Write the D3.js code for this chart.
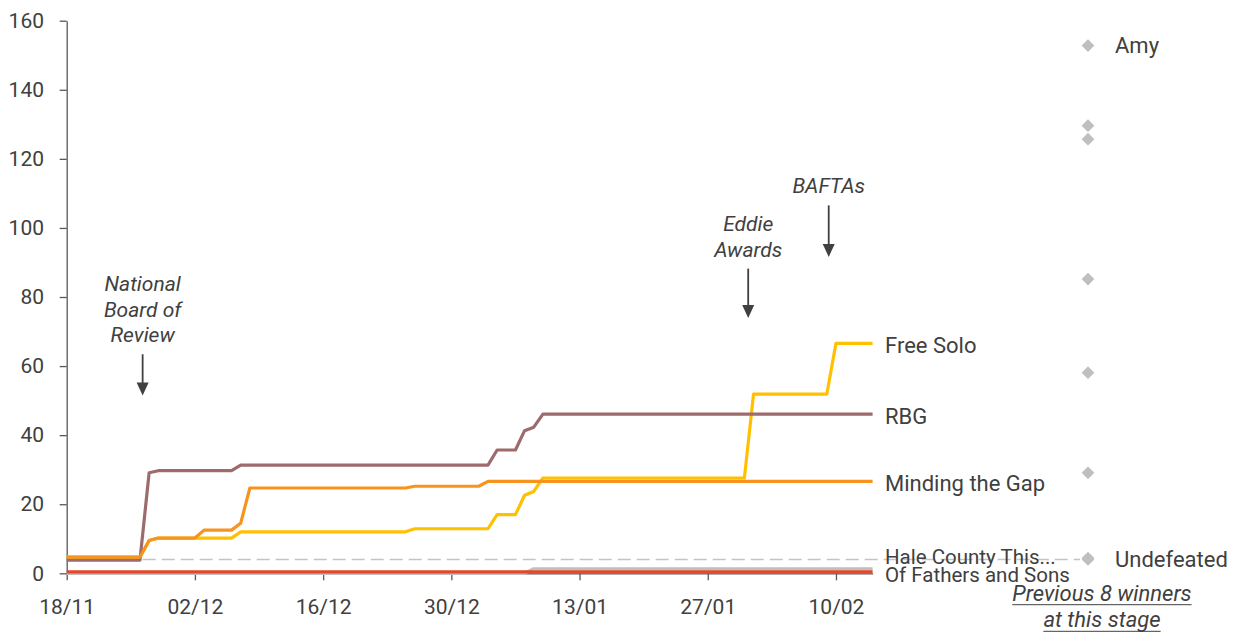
<!DOCTYPE html>
<html><head><meta charset="utf-8">
<script src="https://cdn.jsdelivr.net/npm/d3@7"></script>
<style>
html,body{margin:0;padding:0;background:#fff;}
svg{display:block;font-family:Roboto,"Noto Sans",sans-serif;}
</style></head><body>
<svg id="chart" width="1252" height="632"></svg>
<script>
// ---------- data ----------
const xTickDates = ["2018-11-18","2018-12-02","2018-12-16","2018-12-30","2019-01-13","2019-01-27","2019-02-10"];
const yTickValues = [0,20,40,60,80,100,120,140,160];
const dateDomain = ["2018-11-18","2019-02-14"];

const freeSolo = [["2018-11-18",4.7],["2018-11-26",4.7],["2018-11-27",9.5],["2018-11-28",10.2],["2018-12-06",10.2],["2018-12-07",12.0],["2018-12-25",12.0],["2018-12-26",12.9],["2019-01-03",12.9],["2019-01-04",17.0],["2019-01-06",17.0],["2019-01-07",22.6],["2019-01-08",23.7],["2019-01-09",27.6],["2019-01-31",27.6],["2019-02-01",51.9],["2019-02-09",51.9],["2019-02-10",66.6],["2019-02-14",66.6]];
const rbg = [["2018-11-18",3.8],["2018-11-26",3.8],["2018-11-27",29.1],["2018-11-28",29.7],["2018-12-06",29.7],["2018-12-07",31.3],["2019-01-03",31.3],["2019-01-04",35.7],["2019-01-06",35.7],["2019-01-07",41.3],["2019-01-08",42.3],["2019-01-09",46.1],["2019-02-14",46.1]];
const mindingTheGap = [["2018-11-18",4.7],["2018-11-26",4.7],["2018-11-27",9.5],["2018-11-28",10.2],["2018-12-02",10.2],["2018-12-03",12.5],["2018-12-06",12.5],["2018-12-07",14.5],["2018-12-08",24.7],["2018-12-25",24.7],["2018-12-26",25.2],["2019-01-02",25.2],["2019-01-03",26.6],["2019-02-14",26.6]];
const haleCounty = [["2018-11-18",0],["2019-01-07",0],["2019-01-08",1.3],["2019-02-14",1.3]];
const ofFathersAndSons = [["2018-11-18",0.4],["2019-02-14",0.4]];

const seriesNames = ["Hale County This...","Of Fathers and Sons","Free Solo","RBG","Minding the Gap"];
const seriesData = [haleCounty, ofFathersAndSons, freeSolo, rbg, mindingTheGap];
const seriesColors = ["#BFBFBF","#E4472A","#FFC000","#9D6B6B","#F7941E"];

const previousWinnerValues = [152.8,129.6,125.7,85.2,58.1,29.1,4.4,4.0];
const previousWinnerNames = ["Amy","","","","","","","Undefeated"];

const annotationLines = [["National","Board of","Review"],["Eddie","Awards"],["BAFTAs"]];
const annotationDates = ["2018-11-26T07:00","2019-01-31T10:00","2019-02-09T05:00"];
const annotationTextValues = [66.9,91.7,110.0];
const annotationTipValues = [51.5,73.9,91.6];

// ---------- drawing ----------
const svg = d3.select("#chart");
const parse = d3.utcParse("%Y-%m-%d");
const parseT = d3.utcParse("%Y-%m-%dT%H:%M");
const textColor = "#404040";
const axisColor = "#595959";
const FONT = "Roboto, 'Noto Sans', sans-serif";

const x = d3.scaleUtc().domain(dateDomain.map(parse)).range([66.7, 872.6]);
const y = d3.scaleLinear().domain([0,160]).range([573.3, 20.7]);
const winnersX = 1088;

// dashed reference line at lowest previous winner level
const minWinner = d3.min(previousWinnerValues);
svg.append("line")
  .attr("x1", x.range()[0]).attr("x2", winnersX - 8)
  .attr("y1", y(minWinner)).attr("y2", y(minWinner))
  .attr("stroke", "#C4C4C4").attr("stroke-width", 1.5).attr("stroke-dasharray", "13,6");

// axes
const gy = svg.append("g").attr("transform", `translate(${x.range()[0]},0)`)
  .call(d3.axisLeft(y).tickValues(yTickValues).tickSize(7).tickSizeOuter(0).tickPadding(15.7));
const gx = svg.append("g").attr("transform", `translate(0,${y(0)})`)
  .call(d3.axisBottom(x).tickValues(xTickDates.map(parse)).tickFormat(d3.utcFormat("%d/%m"))
    .tickSize(7).tickSizeOuter(0).tickPadding(19));
[gx, gy].forEach(g => {
  g.attr("font-family", FONT).attr("font-size", 21);
  g.select(".domain").attr("stroke", axisColor).attr("stroke-width", 1.3);
  g.selectAll(".tick line").attr("stroke", axisColor).attr("stroke-width", 1.3);
  g.selectAll(".tick text").attr("fill", textColor);
});

// lines
const line = d3.line().x(d => x(parse(d[0]))).y(d => y(d[1]));
svg.append("g").selectAll("path").data(seriesData).join("path")
  .attr("d", line).attr("fill", "none")
  .attr("stroke", (d, i) => seriesColors[i])
  .attr("stroke-width", 3.2).attr("stroke-linejoin", "round").attr("stroke-linecap", "butt");

// series labels with simple collision avoidance
const labels = seriesData.map((d, i) => ({name: seriesNames[i], base: y(d[d.length-1][1]) + 10, moved: false}));
const sorted = labels.slice().sort((a, b) => b.base - a.base);
for (let i = 1; i < sorted.length; i++) {
  if (sorted[i-1].base - sorted[i].base < 18) {
    sorted[i].base = sorted[i-1].base - 18;
    sorted[i].moved = true; sorted[i-1].moved = true;
  }
}
svg.append("g").selectAll("text").data(labels).join("text")
  .attr("x", x.range()[1] + 12.4).attr("y", d => d.base)
  .attr("font-family", FONT).attr("font-size", d => d.moved ? 20.5 : 22).attr("fill", textColor)
  .text(d => d.name);

// previous winners diamonds
const diamond = d3.symbol(d3.symbolSquare, 81);
svg.append("g").selectAll("path").data(previousWinnerValues).join("path")
  .attr("d", diamond)
  .attr("transform", d => `translate(${winnersX},${y(d)}) rotate(45)`)
  .attr("fill", "#BFBFBF");
svg.append("g").selectAll("text")
  .data(previousWinnerValues.map((v, i) => ({v, n: previousWinnerNames[i]})).filter(d => d.n))
  .join("text")
  .attr("x", winnersX + 27).attr("y", d => y(d.v) + 7.5)
  .attr("font-family", FONT).attr("font-size", 22).attr("fill", textColor)
  .text(d => d.n);

// "Previous 8 winners at this stage" caption, italic underlined
const capLines = ["Previous 8 winners", "at this stage"];
capLines.forEach((t, i) => {
  const by = 600.7 + i * 26.6;
  const cx = winnersX + 14;
  const tx = svg.append("text").attr("x", cx).attr("y", by)
    .attr("text-anchor", "middle").attr("font-family", FONT).attr("font-size", 22)
    .attr("font-style", "italic").attr("fill", textColor).text(t);
  const w = tx.node().getComputedTextLength();
  svg.append("line").attr("x1", cx - w/2).attr("x2", cx + w/2)
    .attr("y1", by + 4).attr("y2", by + 4).attr("stroke", textColor).attr("stroke-width", 1);
});

// annotations with arrows
annotationLines.forEach((lines, i) => {
  const ax = x(parseT(annotationDates[i]));
  const lastBase = y(annotationTextValues[i]);
  const tip = y(annotationTipValues[i]);
  const g = svg.append("g");
  lines.forEach((t, j) => {
    g.append("text").attr("x", ax).attr("y", lastBase - (lines.length - 1 - j) * 25.5)
      .attr("text-anchor", "middle").attr("font-family", FONT).attr("font-size", 21)
      .attr("font-style", "italic").attr("fill", textColor).text(t);
  });
  const start = lastBase + 12;
  g.append("line").attr("x1", ax).attr("x2", ax).attr("y1", start).attr("y2", tip - 12)
    .attr("stroke", textColor).attr("stroke-width", 1.8);
  g.append("path").attr("d", `M${ax-6},${tip-13}L${ax+6},${tip-13}L${ax},${tip}Z`).attr("fill", textColor);
});
</script>
</body></html>
